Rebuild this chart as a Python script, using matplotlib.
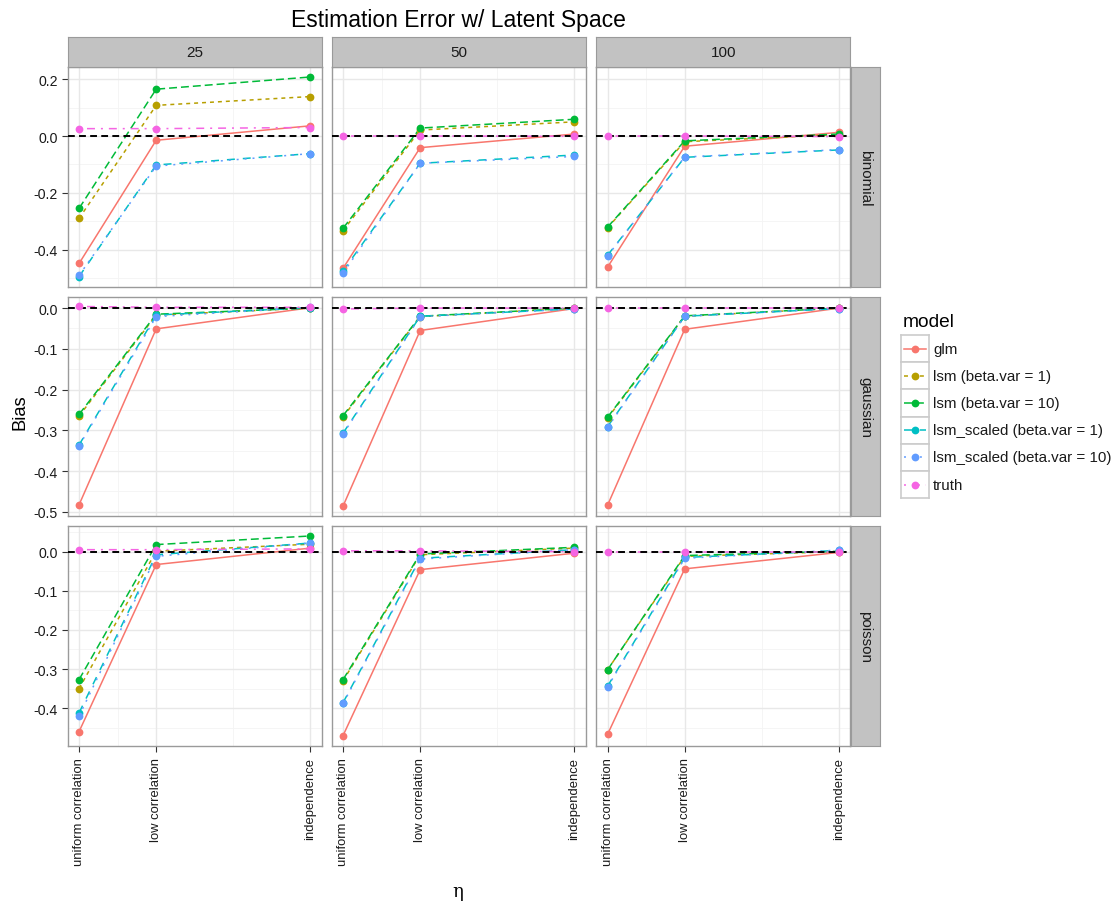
import numpy as np
import matplotlib
matplotlib.use("Agg")
import matplotlib.pyplot as plt
from matplotlib.lines import Line2D

plt.rcParams['font.family'] = ['Liberation Sans', 'DejaVu Sans']
plt.rcParams['axes.unicode_minus'] = False

# --- dados ---
families = ["binomial", "gaussian", "poisson"]
sizes = ["25", "50", "100"]
eta_labels = ["uniform correlation", "low correlation", "independence"]
eta_x = [0.0, 1 / 3, 1.0]
models = ["glm", "lsm (beta.var = 1)", "lsm (beta.var = 10)",
          "lsm_scaled (beta.var = 1)", "lsm_scaled (beta.var = 10)", "truth"]

# cada lista: glm, lsm1, lsm10, lsm_scaled1, lsm_scaled10, truth
binomial_25 = [[-0.449, -0.015, 0.036], [-0.290, 0.108, 0.139], [-0.255, 0.165, 0.208],
               [-0.495, -0.102, -0.062], [-0.491, -0.106, -0.062], [0.026, 0.026, 0.030]]
binomial_50 = [[-0.466, -0.041, 0.007], [-0.333, 0.021, 0.050], [-0.325, 0.028, 0.059],
               [-0.475, -0.096, -0.067], [-0.482, -0.096, -0.072], [0.0, 0.0, -0.001]]
binomial_100 = [[-0.462, -0.036, 0.013], [-0.323, -0.020, 0.005], [-0.321, -0.017, 0.007],
                [-0.420, -0.075, -0.049], [-0.422, -0.074, -0.048], [0.0, 0.0, -0.002]]
gaussian_25 = [[-0.483, -0.051, 0.001], [-0.265, -0.017, 0.0], [-0.261, -0.015, 0.0],
               [-0.336, -0.017, 0.001], [-0.338, -0.021, 0.002], [0.004, 0.002, 0.002]]
gaussian_50 = [[-0.486, -0.055, -0.001], [-0.267, -0.021, 0.0], [-0.264, -0.020, 0.0],
               [-0.307, -0.020, -0.002], [-0.309, -0.021, -0.002], [-0.002, 0.0, 0.0]]
gaussian_100 = [[-0.484, -0.052, 0.0], [-0.270, -0.020, 0.0], [-0.268, -0.019, 0.0],
                [-0.291, -0.020, -0.001], [-0.293, -0.020, -0.001], [0.0, 0.0, 0.0]]
poisson_25 = [[-0.460, -0.033, 0.009], [-0.350, 0.001, 0.019], [-0.327, 0.018, 0.040],
              [-0.412, -0.008, 0.022], [-0.420, -0.012, 0.022], [0.005, 0.005, 0.007]]
poisson_50 = [[-0.470, -0.046, -0.004], [-0.330, -0.008, 0.009], [-0.327, -0.006, 0.011],
              [-0.386, -0.017, 0.005], [-0.388, -0.019, 0.005], [0.002, 0.002, 0.0]]
poisson_100 = [[-0.467, -0.044, -0.002], [-0.302, -0.012, 0.0], [-0.302, -0.010, 0.001],
               [-0.344, -0.015, 0.003], [-0.346, -0.017, 0.004], [0.0, 0.0, 0.0]]

panels = {
    "binomial": [binomial_25, binomial_50, binomial_100],
    "gaussian": [gaussian_25, gaussian_50, gaussian_100],
    "poisson": [poisson_25, poisson_50, poisson_100],
}
row_ticks = {
    "binomial": [-0.4, -0.2, 0.0, 0.2],
    "gaussian": [-0.5, -0.4, -0.3, -0.2, -0.1, 0.0],
    "poisson": [-0.4, -0.3, -0.2, -0.1, 0.0],
}

# --- estilo ---
cores = ["#F8766D", "#B79F00", "#00BA38", "#00BFC4", "#619CFF", "#F564E3"]
tracos = [None, (2, 2), (4, 2), (4, 4), (1, 3), (1, 3, 4, 3)]
LW = 1.1
MS = 5.6
STRIP_BG = "#C2C2C2"
BORDA = "#9A9A9A"
TXT = "#1A1A1A"

W, H = 1115, 903
fig = plt.figure(figsize=(W / 100, H / 100), dpi=100)

def px_axes(x, y, w, h):
    return fig.add_axes([x / W, 1 - (y + h) / H, w / W, h / H])

col_left = [67.5, 331.5, 596.0]
row_top = [68.0, 297.5, 527.0]
pw, ph = 254.5, 219.5

def desenha_linha(ax, x, y, i):
    ln, = ax.plot(x, y, color=cores[i], lw=LW, zorder=2 + i * 0.01)
    if tracos[i] is not None:
        ln.set_dashes([d * 1.3 for d in tracos[i]])
    return ln

for r, fam in enumerate(families):
    dados_linha = np.array(panels[fam])
    lo = min(dados_linha.min(), 0.0)
    hi = max(dados_linha.max(), 0.0)
    pad = (hi - lo) * 0.05
    ylim = (lo - pad, hi + pad)
    ticks = row_ticks[fam]
    passo = ticks[1] - ticks[0]
    minors = np.arange(ticks[0] - passo / 2, ylim[1], passo)
    minors = [m for m in minors if ylim[0] <= m <= ylim[1]]
    for c, n in enumerate(sizes):
        ax = px_axes(col_left[c], row_top[r], pw, ph)
        ax.set_facecolor("white")
        ax.set_xlim(-0.05, 1.05)
        ax.set_ylim(*ylim)
        # grade
        for m in minors:
            ax.axhline(m, color="#F4F4F4", lw=0.6, zorder=0)
        for t in ticks:
            ax.axhline(t, color="#E8E8E8", lw=1.0, zorder=0.5)
        for m in [(eta_x[0] + eta_x[1]) / 2, (eta_x[1] + eta_x[2]) / 2]:
            ax.axvline(m, color="#F4F4F4", lw=0.6, zorder=0)
        for t in eta_x:
            ax.axvline(t, color="#E8E8E8", lw=1.0, zorder=0.5)
        vals = panels[fam][c]
        for i, m in enumerate(models):
            desenha_linha(ax, eta_x, vals[i], i)
        ax.axhline(0, color="black", lw=1.4, dashes=(3.5, 2.2), zorder=3)
        for i, m in enumerate(models):
            ax.plot(eta_x, vals[i], 'o', color=cores[i], ms=MS, mec='none', zorder=4 + i * 0.01)
        for s in ax.spines.values():
            s.set_color(BORDA)
            s.set_linewidth(1.0)
        ax.set_xticks(eta_x)
        ax.set_yticks(ticks)
        ax.tick_params(colors="#333333", length=4, width=0.8, labelcolor=TXT)
        ax.tick_params(axis='y', labelsize=10.2, pad=3)
        ax.tick_params(axis='x', labelsize=9.4, pad=4.5)
        if c == 0:
            ax.set_yticklabels([f"{t:.1f}" for t in ticks])
        else:
            ax.tick_params(axis='y', length=0, labelleft=False)
        if r == 2:
            ax.set_xticklabels(eta_labels, rotation=90, va='top', ha='center')
        else:
            ax.tick_params(axis='x', length=0, labelbottom=False)
        # strips
        if r == 0:
            sax = px_axes(col_left[c], 38.0, pw, 30.0)
            sax.set_facecolor(STRIP_BG)
            sax.set_xticks([]); sax.set_yticks([])
            for s in sax.spines.values():
                s.set_color(BORDA)
            sax.text(0.5, 0.5, n, ha='center', va='center', fontsize=11, color=TXT,
                     transform=sax.transAxes)
        if c == 2:
            sax = px_axes(col_left[c] + pw, row_top[r], 29.5, ph)
            sax.set_facecolor(STRIP_BG)
            sax.set_xticks([]); sax.set_yticks([])
            for s in sax.spines.values():
                s.set_color(BORDA)
            sax.text(0.5, 0.5, fam, ha='center', va='center', rotation=-90, fontsize=11,
                     color=TXT, transform=sax.transAxes)

# titulos
fig.text(458 / W, 1 - 20 / H, "Estimation Error w/ Latent Space", ha='center', va='center',
         fontsize=16.5)
fig.text(20 / W, 1 - 412 / H, "Bias", ha='center', va='center', rotation=90, fontsize=13.2)
fig.text(458 / W, 1 - 892 / H, "η", ha='center', va='center', fontsize=13,
         family=['DejaVu Serif'])

# --- legenda manual ---
fig.text(903 / W, 1 - 323 / H, "model", ha='left', va='center', fontsize=13.8)
key_w, key_h = 28.0, 27.2
key_top = 336.0
for i, m in enumerate(models):
    kax = px_axes(901.0, key_top + i * key_h, key_w, key_h)
    kax.set_xlim(0, 1); kax.set_ylim(0, 1)
    kax.set_xticks([]); kax.set_yticks([])
    kax.set_facecolor("white")
    for s in kax.spines.values():
        s.set_color("#CCCCCC")
        s.set_linewidth(1.2)
    ln = Line2D([0.1, 0.9], [0.5, 0.5], color=cores[i], lw=LW)
    if tracos[i] is not None:
        ln.set_dashes([d * 1.3 for d in tracos[i]])
    kax.add_line(ln)
    kax.plot([0.5], [0.5], 'o', color=cores[i], ms=MS, mec='none')
    fig.text(933 / W, 1 - (key_top + (i + 0.5) * key_h) / H, m, ha='left', va='center',
             fontsize=10.9, color=TXT)

fig.savefig("out.png", dpi=100, facecolor="white")
